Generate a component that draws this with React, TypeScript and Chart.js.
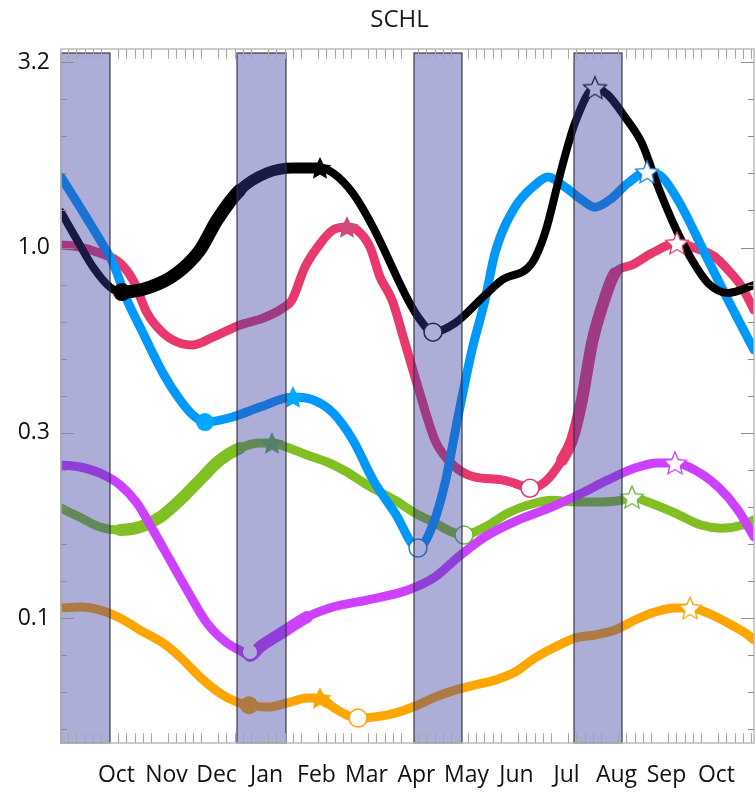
import React, { useEffect, useRef } from 'react';
import { Chart, registerables } from 'chart.js';

Chart.register(...registerables);

// ---------- axis data ----------
const monthLabels = ['Oct', 'Nov', 'Dec', 'Jan', 'Feb', 'Mar', 'Apr', 'May', 'Jun', 'Jul', 'Aug', 'Sep', 'Oct'];
const monthLabelPos = [1.11, 2.11, 3.11, 4.11, 5.11, 6.11, 7.11, 8.11, 9.11, 10.11, 11.11, 12.11, 13.11];
const monthStarts = [-0.03, 0.97, 1.97, 2.97, 3.97, 4.97, 5.97, 6.97, 7.97, 8.97, 9.97, 10.97, 11.97, 12.97];
const xMin = 0;
const xMax = 13.86;
const yMin = 0.046;
const yMax = 3.434;
const yTickExponents = [-1, -0.5, 0, 0.5];
const yTickLabels = ['0.1', '0.3', '1.0', '3.2'];
const shadeStart = [0, 3.52, 7.06, 10.26];
const shadeEnd = [0.98, 4.5, 8.02, 11.22];

// ---------- series data (x in months from left edge, y = SCHL) ----------
const blackX = [0, 0.32, 0.64, 0.98, 1.22, 1.78, 2.32, 2.78, 3.12, 3.58, 4.12, 4.64, 5.18, 5.44, 5.84, 6.24, 6.94, 7.14, 7.44, 7.88, 8.48, 8.82, 9.42, 9.68, 10.02, 10.28, 10.68, 10.94, 11.28, 11.62, 11.94, 12.28, 12.62, 12.94, 13.34, 13.86];
const blackY = [1.247, 1.048, 0.886, 0.782, 0.758, 0.782, 0.853, 0.985, 1.186, 1.43, 1.59, 1.64, 1.64, 1.59, 1.40, 1.136, 0.722, 0.65, 0.591, 0.625, 0.744, 0.817, 0.908, 1.094, 1.65, 2.17, 2.70, 2.58, 2.25, 1.91, 1.46, 1.136, 0.925, 0.802, 0.754, 0.792];

const blueX = [0, 0.38, 0.78, 1.04, 1.32, 1.64, 2.04, 2.38, 2.64, 2.88, 3.44, 3.98, 4.64, 5.04, 5.44, 5.84, 6.24, 6.68, 7.14, 7.42, 7.68, 7.94, 8.22, 8.48, 8.68, 9.08, 9.48, 9.74, 10.08, 10.42, 10.68, 11.02, 11.34, 11.72, 12.02, 12.34, 12.68, 12.94, 13.34, 13.86];
const blueY = [1.55, 1.285, 1.048, 0.908, 0.722, 0.588, 0.458, 0.388, 0.353, 0.338, 0.349, 0.371, 0.395, 0.388, 0.358, 0.302, 0.236, 0.192, 0.1545, 0.176, 0.231, 0.349, 0.529, 0.722, 0.966, 1.285, 1.475, 1.55, 1.456, 1.343, 1.285, 1.36, 1.493, 1.60, 1.55, 1.343, 1.094, 0.925, 0.722, 0.529];

const pinkX = [0, 0.38, 0.78, 1.18, 1.44, 1.72, 2.04, 2.38, 2.64, 3.04, 3.58, 4.04, 4.44, 4.62, 4.88, 5.24, 5.44, 5.72, 5.92, 6.18, 6.38, 6.62, 6.88, 7.14, 7.48, 7.74, 8.02, 8.28, 8.82, 9.08, 9.38, 9.68, 10.02, 10.22, 10.42, 10.62, 10.82, 11.08, 11.42, 11.82, 12.32, 12.62, 13.08, 13.34, 13.62, 13.86];
const pinkY = [1.016, 1.003, 0.966, 0.908, 0.817, 0.666, 0.588, 0.552, 0.546, 0.573, 0.618, 0.645, 0.687, 0.722, 0.886, 1.048, 1.115, 1.136, 1.115, 1.003, 0.833, 0.722, 0.552, 0.42, 0.302, 0.267, 0.248, 0.240, 0.236, 0.231, 0.224, 0.233, 0.267, 0.302, 0.388, 0.552, 0.691, 0.853, 0.897, 0.966, 1.028, 1.003, 0.943, 0.87, 0.782, 0.678];

const greenX = [0, 0.38, 0.78, 1.18, 1.58, 1.98, 2.38, 2.78, 3.18, 3.58, 3.98, 4.22, 4.52, 4.92, 5.32, 5.72, 6.12, 6.68, 7.08, 7.48, 7.82, 8.06, 8.48, 8.94, 9.34, 9.82, 10.28, 10.82, 11.22, 11.42, 11.74, 12.28, 12.82, 13.22, 13.62, 13.86];
const greenY = [0.198, 0.187, 0.176, 0.1727, 0.176, 0.187, 0.208, 0.236, 0.267, 0.2875, 0.2967, 0.2967, 0.289, 0.2754, 0.2637, 0.2478, 0.2286, 0.208, 0.192, 0.1805, 0.1707, 0.1675, 0.176, 0.192, 0.2018, 0.208, 0.2056, 0.2056, 0.208, 0.212, 0.2056, 0.192, 0.178, 0.1748, 0.178, 0.184];

const purpleX = [0, 0.38, 0.78, 1.18, 1.52, 1.84, 2.18, 2.52, 2.92, 3.32, 3.6, 3.78, 3.98, 4.44, 4.92, 5.44, 6.12, 6.94, 7.48, 7.94, 8.48, 9.14, 9.82, 10.42, 10.94, 11.48, 11.94, 12.28, 12.68, 13.14, 13.54, 13.86];
const purpleY = [0.259, 0.2557, 0.246, 0.2286, 0.2043, 0.1727, 0.1434, 0.119, 0.0969, 0.0856, 0.0815, 0.079, 0.0835, 0.0916, 0.1006, 0.1071, 0.1118, 0.119, 0.129, 0.146, 0.1656, 0.1838, 0.1995, 0.2175, 0.236, 0.254, 0.262, 0.262, 0.2508, 0.226, 0.1956, 0.1656];

const orangeX = [0, 0.38, 0.78, 1.18, 1.58, 2.04, 2.38, 2.78, 3.18, 3.52, 3.76, 4.12, 4.58, 4.92, 5.18, 5.44, 5.72, 5.94, 6.32, 6.68, 7.08, 7.48, 7.88, 8.28, 8.68, 9.08, 9.48, 9.88, 10.28, 10.68, 11.08, 11.48, 11.88, 12.28, 12.58, 12.94, 13.34, 13.74, 13.86];
const orangeY = [0.1064, 0.1071, 0.1051, 0.100, 0.0928, 0.0856, 0.0785, 0.0693, 0.0627, 0.0593, 0.0582, 0.0575, 0.0593, 0.0608, 0.0608, 0.0575, 0.0547, 0.0537, 0.0542, 0.0554, 0.0578, 0.0612, 0.0639, 0.066, 0.068, 0.0715, 0.078, 0.0835, 0.0883, 0.090, 0.0928, 0.0988, 0.1038, 0.1064, 0.1064, 0.1031, 0.0969, 0.090, 0.0872];

// ---------- markers ----------
const blackMarkX = [1.22, 5.18, 7.44, 10.68];
const blackMarkY = [0.758, 1.64, 0.591, 2.70];
const blackMarkKind = ['dot', 'star', 'ring', 'openStar'];
const blueMarkX = [2.88, 4.64, 7.14, 11.72];
const blueMarkY = [0.338, 0.395, 0.1545, 1.60];
const blueMarkKind = ['dot', 'star', 'ring', 'openStar'];
const pinkMarkX = [5.72, 9.38, 12.32];
const pinkMarkY = [1.136, 0.224, 1.028];
const pinkMarkKind = ['star', 'ring', 'openStar'];
const greenMarkX = [4.22, 8.06, 11.42];
const greenMarkY = [0.2967, 0.1675, 0.212];
const greenMarkKind = ['star', 'ring', 'openStar'];
const purpleMarkX = [3.78, 12.28];
const purpleMarkY = [0.081, 0.262];
const purpleMarkKind = ['blank', 'openStar'];
const orangeMarkX = [3.76, 5.18, 5.94, 12.58];
const orangeMarkY = [0.0582, 0.0608, 0.0537, 0.1064];
const orangeMarkKind = ['dot', 'star', 'ring', 'openStar'];

// ---------- styles ----------
type Zone = [number, number, number];
interface SeriesStyle { color: string; mark: string; ring: string; width: number; zones: Zone[] }
const styles: Record<string, SeriesStyle> = {
  black: { color: '#000000', mark: '#000000', ring: '#111122', width: 8, zones: [[1.22, 3.7, 13], [3.7, 5.3, 11]] },
  blue: { color: '#0098fa', mark: '#00a8ff', ring: '#1a86e0', width: 9, zones: [] },
  pink: { color: '#e8386e', mark: '#d24a7c', ring: '#dc3c6e', width: 9, zones: [[10.1, 11.0, 12]] },
  green: { color: '#80c022', mark: '#6aae48', ring: '#66b840', width: 9, zones: [[1.0, 3.5, 12]] },
  purple: { color: '#cc40ff', mark: '#cc40ff', ring: '#cc40ff', width: 9, zones: [[3.78, 5.0, 12]] },
  orange: { color: '#ffa500', mark: '#ffa500', ring: '#ffa500', width: 9, zones: [] },
};

function widthAt(st: SeriesStyle, x: number) {
  for (const z of st.zones) if (x >= z[0] && x < z[1]) return z[2];
  return st.width;
}

function makeStar(fill: string, stroke: string, R: number, lw: number, inner: number) {
  const c = document.createElement('canvas');
  const s = Math.ceil(2 * R + lw + 4);
  c.width = s;
  c.height = s;
  const g = c.getContext('2d')!;
  g.translate(s / 2, s / 2 + 1);
  g.beginPath();
  for (let i = 0; i < 10; i++) {
    const r = i % 2 === 0 ? R : R * inner;
    const a = -Math.PI / 2 + (i * Math.PI) / 5;
    g.lineTo(r * Math.cos(a), r * Math.sin(a));
  }
  g.closePath();
  g.fillStyle = fill;
  g.fill();
  if (lw > 0) {
    g.strokeStyle = stroke;
    g.lineWidth = lw;
    g.lineJoin = 'miter';
    g.stroke();
  }
  return c;
}

function lineDataset(xs: number[], ys: number[], st: SeriesStyle, order: number) {
  return {
    type: 'line' as const,
    data: xs.map((x, i) => ({ x, y: ys[i] })),
    borderColor: st.color,
    borderWidth: st.width,
    borderCapStyle: 'round' as const,
    borderJoinStyle: 'round' as const,
    cubicInterpolationMode: 'monotone' as const,
    pointRadius: 0,
    pointHoverRadius: 0,
    clip: 0,
    order,
    segment: {
      borderWidth: (ctx: any) => widthAt(st, (ctx.p0.parsed.x + ctx.p1.parsed.x) / 2),
    },
  };
}

function markerDataset(xs: number[], ys: number[], kinds: string[], st: SeriesStyle, order: number) {
  const filledStar = makeStar(st.mark, st.mark, 12, 0, 0.48);
  const openStar = makeStar('#ffffff', st.ring, 12, 1.3, 0.46);
  return {
    type: 'line' as const,
    showLine: false,
    data: xs.map((x, i) => ({ x, y: ys[i] })),
    pointStyle: kinds.map((k) => (k === 'star' ? filledStar : k === 'openStar' ? openStar : 'circle')),
    pointRadius: kinds.map((k) => (k === 'dot' ? 9 : k === 'ring' ? 9 : k === 'blank' ? 7 : 12)),
    pointBackgroundColor: kinds.map((k) => (k === 'dot' ? st.mark : '#ffffff')),
    pointBorderColor: kinds.map((k) => (k === 'blank' ? '#ffffff' : st.ring)),
    pointBorderWidth: kinds.map((k) => (k === 'ring' ? 1.5 : 0)),
    pointHoverRadius: 0,
    clip: false as const,
    order,
  };
}

const framePlugin = {
  id: 'framePlugin',
  afterDatasetsDraw(chart: any) {
    const { ctx, chartArea: a, scales } = chart;
    const x = scales.x;
    const y = scales.y;
    ctx.save();
    // shaded windows (on top of the lines)
    for (let i = 0; i < shadeStart.length; i++) {
      const x0 = x.getPixelForValue(shadeStart[i]);
      const x1 = x.getPixelForValue(shadeEnd[i]);
      ctx.fillStyle = 'rgba(60,62,160,0.42)';
      ctx.fillRect(x0, a.top + 4, x1 - x0, a.bottom - a.top - 4);
      ctx.strokeStyle = 'rgba(45,45,65,0.75)';
      ctx.lineWidth = 1.5;
      ctx.strokeRect(x0, a.top + 4, x1 - x0, a.bottom - a.top - 4);
    }
    // frame
    ctx.strokeStyle = '#bcbcbc';
    ctx.lineWidth = 1.5;
    ctx.strokeRect(a.left, a.top, a.right - a.left, a.bottom - a.top);
    // y ticks (inside, both sides)
    ctx.lineWidth = 1;
    ctx.strokeStyle = '#8c8c8c';
    for (let k = -13; k <= 5; k++) {
      const v = Math.pow(10, k / 10);
      if (v < yMin || v > yMax) continue;
      const py = Math.round(y.getPixelForValue(v)) + 0.5;
      const len = k % 5 === 0 ? 13 : 6;
      ctx.beginPath();
      ctx.moveTo(a.left, py);
      ctx.lineTo(a.left + len, py);
      ctx.moveTo(a.right, py);
      ctx.lineTo(a.right - len, py);
      ctx.stroke();
    }
    // x ticks (inside, top and bottom)
    ctx.strokeStyle = '#a6a6a6';
    for (const b of monthStarts) {
      for (let i = 1; i <= 5; i++) {
        const v = b + i / 6;
        if (v <= xMin || v >= xMax) continue;
        const px = Math.round(x.getPixelForValue(v)) + 0.5;
        ctx.beginPath();
        ctx.moveTo(px, a.top);
        ctx.lineTo(px, a.top + 10);
        ctx.moveTo(px, a.bottom);
        ctx.lineTo(px, a.bottom - 10);
        ctx.stroke();
      }
    }
    // title
    ctx.fillStyle = '#1a1a1a';
    ctx.font = '24px "Open Sans"';
    ctx.textAlign = 'center';
    ctx.textBaseline = 'middle';
    ctx.fillText('SCHL', (a.left + a.right) / 2 - 8, 20);
    ctx.restore();
  },
};

export default function App() {
  const ref = useRef<HTMLCanvasElement>(null);
  useEffect(() => {
    if (!ref.current) return;
    const datasets: any[] = [
      markerDataset(blackMarkX, blackMarkY, blackMarkKind, styles.black, 0),
      markerDataset(blueMarkX, blueMarkY, blueMarkKind, styles.blue, 0),
      markerDataset(pinkMarkX, pinkMarkY, pinkMarkKind, styles.pink, 0),
      markerDataset(greenMarkX, greenMarkY, greenMarkKind, styles.green, 0),
      markerDataset(purpleMarkX, purpleMarkY, purpleMarkKind, styles.purple, 0),
      markerDataset(orangeMarkX, orangeMarkY, orangeMarkKind, styles.orange, 0),
      lineDataset(blackX, blackY, styles.black, 1),
      lineDataset(blueX, blueY, styles.blue, 2),
      lineDataset(pinkX, pinkY, styles.pink, 3),
      lineDataset(purpleX, purpleY, styles.purple, 4),
      lineDataset(greenX, greenY, styles.green, 5),
      lineDataset(orangeX, orangeY, styles.orange, 6),
    ];
    const chart = new Chart(ref.current, {
      type: 'line',
      data: { datasets },
      options: {
        animation: false,
        responsive: false,
        devicePixelRatio: 1,
        layout: { autoPadding: false, padding: { top: 49, right: 1, left: 0, bottom: 0 } },
        plugins: { legend: { display: false }, tooltip: { enabled: false }, title: { display: false } },
        events: [],
        scales: {
          x: {
            type: 'linear',
            min: xMin,
            max: xMax,
            grid: { display: false, drawTicks: false },
            border: { display: false },
            afterBuildTicks: (scale: any) => {
              scale.ticks = monthLabelPos.map((v) => ({ value: v }));
            },
            afterFit: (scale: any) => {
              scale.height = 49;
              scale.paddingLeft = 0;
              scale.paddingRight = 0;
            },
            ticks: {
              autoSkip: false,
              maxRotation: 0,
              minRotation: 0,
              padding: 19,
              color: '#111111',
              font: { family: '"Open Sans"', size: 23 },
              callback: (_v: any, i: number) => monthLabels[i],
            },
          },
          y: {
            type: 'logarithmic',
            min: yMin,
            max: yMax,
            grid: { display: false, drawTicks: false },
            border: { display: false },
            afterBuildTicks: (scale: any) => {
              scale.ticks = yTickExponents.map((e) => ({ value: Math.pow(10, e) }));
            },
            afterFit: (scale: any) => {
              scale.width = 61;
              scale.paddingTop = 0;
              scale.paddingBottom = 0;
            },
            ticks: {
              autoSkip: false,
              padding: 11,
              color: '#111111',
              font: { family: '"Open Sans"', size: 23 },
              callback: (_v: any, i: number) => yTickLabels[i],
            },
          },
        },
      },
      plugins: [framePlugin],
    });
    return () => chart.destroy();
  }, []);
  return (
    <div style={{ position: 'absolute', left: 0, top: 0, width: 755, height: 792, background: '#ffffff', overflow: 'hidden' }}>
      <canvas ref={ref} width={755} height={792} style={{ display: 'block', width: 755, height: 792 }} />
    </div>
  );
}
